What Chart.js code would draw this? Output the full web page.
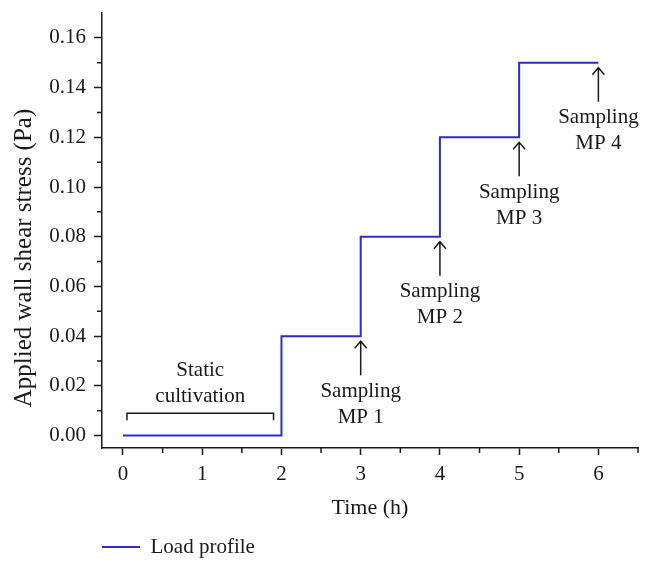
<!DOCTYPE html>
<html><head><meta charset="utf-8">
<script src="https://cdn.jsdelivr.net/npm/chart.js@4/dist/chart.umd.min.js"></script>
<style>html,body{margin:0;padding:0;background:#fff}#wrap{width:653px;height:572px}</style>
</head><body><div id="wrap"><canvas id="c" width="653" height="572"></canvas></div>
<script>
// ---- data ----
const times = [0, 2, 3, 4, 5, 6];                 // h, start of each level (last = end)
const stress = [0, 0.04, 0.08, 0.12, 0.15, 0.15];  // Pa
const seriesName = 'Load profile';
const xTitle = 'Time (h)';
const yTitle = 'Applied wall shear stress (Pa)';
const xMinorTicks = [0.5, 1.5, 2.5, 3.5, 4.5, 5.5, 6.5];
const yMinorTicks = [0.01, 0.03, 0.05, 0.07, 0.09, 0.11, 0.13, 0.15];
const samplingTimes = [3, 4, 5, 6];
const samplingLabels = ['MP 1', 'MP 2', 'MP 3', 'MP 4'];
const samplingWord = 'Sampling';
const staticRange = [0.05, 1.9];
const staticLevel = 0.009;
const staticLabel = ['Static', 'cultivation'];

const ink = '#1a1a1a';
const blue = '#2b2bd2';
const FONT = "'Liberation Serif', 'Times New Roman', serif";
Chart.defaults.font.family = FONT;
Chart.defaults.color = ink;

const annot = {
  id: 'annot',
  afterDraw(chart) {
    const {ctx, scales: {x, y}, chartArea} = chart;
    ctx.save();
    ctx.strokeStyle = ink; ctx.fillStyle = ink; ctx.lineWidth = 1.5;
    // minor ticks
    ctx.beginPath();
    xMinorTicks.forEach(v => { const p = x.getPixelForValue(v); ctx.moveTo(p, chartArea.bottom); ctx.lineTo(p, chartArea.bottom + 5); });
    yMinorTicks.forEach(v => { const p = y.getPixelForValue(v); ctx.moveTo(chartArea.left, p); ctx.lineTo(chartArea.left - 5, p); });
    ctx.stroke();
    // sampling arrows
    ctx.font = '21px ' + FONT; ctx.textAlign = 'center'; ctx.textBaseline = 'middle';
    samplingTimes.forEach((t, i) => {
      const idx = times.indexOf(t);
      const level = stress[idx - 1];
      const px = x.getPixelForValue(t);
      const tip = y.getPixelForValue(level) + 5;
      const base = tip + 34;
      ctx.beginPath();
      ctx.moveTo(px, base); ctx.lineTo(px, tip);
      ctx.moveTo(px - 6, tip + 7); ctx.lineTo(px, tip); ctx.lineTo(px + 6, tip + 7);
      ctx.stroke();
      ctx.fillText(samplingWord, px, base + 16);
      ctx.fillText(samplingLabels[i], px, base + 42);
    });
    // static cultivation bracket
    const bx0 = x.getPixelForValue(staticRange[0]), bx1 = x.getPixelForValue(staticRange[1]);
    const by = y.getPixelForValue(staticLevel);
    ctx.beginPath();
    ctx.moveTo(bx0, by + 7); ctx.lineTo(bx0, by); ctx.lineTo(bx1, by); ctx.lineTo(bx1, by + 7);
    ctx.stroke();
    const bc = (bx0 + bx1) / 2;
    ctx.fillText(staticLabel[0], bc, by - 43);
    ctx.fillText(staticLabel[1], bc, by - 17);
    // y title
    ctx.font = '25px ' + FONT;
    ctx.translate(24, 258); ctx.rotate(-Math.PI / 2);
    ctx.fillText(yTitle, 0, 0);
    ctx.restore();
  }
};

new Chart(document.getElementById('c'), {
  type: 'line',
  data: {
    datasets: [{
      label: seriesName,
      data: times.map((t, i) => ({x: t, y: stress[i]})),
      stepped: 'before',
      borderColor: blue,
      backgroundColor: blue,
      borderWidth: 2,
      pointRadius: 0,
      pointStyle: 'line',
      fill: false
    }]
  },
  options: {
    responsive: false,
    animation: false,
    layout: {padding: {top: 13, right: 15, bottom: 4.5, left: 0}},
    plugins: {
      tooltip: {enabled: false},
      legend: {
        position: 'bottom', align: 'start', fullSize: false,
        labels: {usePointStyle: true, pointStyle: 'line', pointStyleWidth: 38, boxHeight: 21,
                 padding: 0, color: ink, font: {size: 21}}
      }
    },
    scales: {
      x: {
        type: 'linear', min: -0.265, max: 6.5,
        ticks: {stepSize: 1, includeBounds: false, padding: 7, color: ink, font: {size: 21},
                callback: v => String(v)},
        grid: {drawOnChartArea: false, drawTicks: true, tickLength: 7, tickWidth: 1.5, tickColor: ink},
        border: {display: true, color: ink, width: 1.5},
        title: {display: true, text: xTitle, color: ink, font: {size: 22}, padding: {top: 0, bottom: 15.3}},
        afterFit: s => { s.height = 88.5; s.paddingLeft = 0; s.paddingRight = 0; }
      },
      y: {
        type: 'linear', min: -0.005, max: 0.17,
        ticks: {stepSize: 0.02, includeBounds: false, padding: 8, color: ink, font: {size: 21},
                callback: v => Number(v).toFixed(2)},
        grid: {drawOnChartArea: false, drawTicks: true, tickLength: 8, tickWidth: 1.5, tickColor: ink},
        border: {display: true, color: ink, width: 1.5},
        title: {display: false},
        afterFit: s => { s.width = 102; s.paddingTop = 0; s.paddingBottom = 0; }
      }
    }
  },
  plugins: [annot]
});
</script></body></html>
